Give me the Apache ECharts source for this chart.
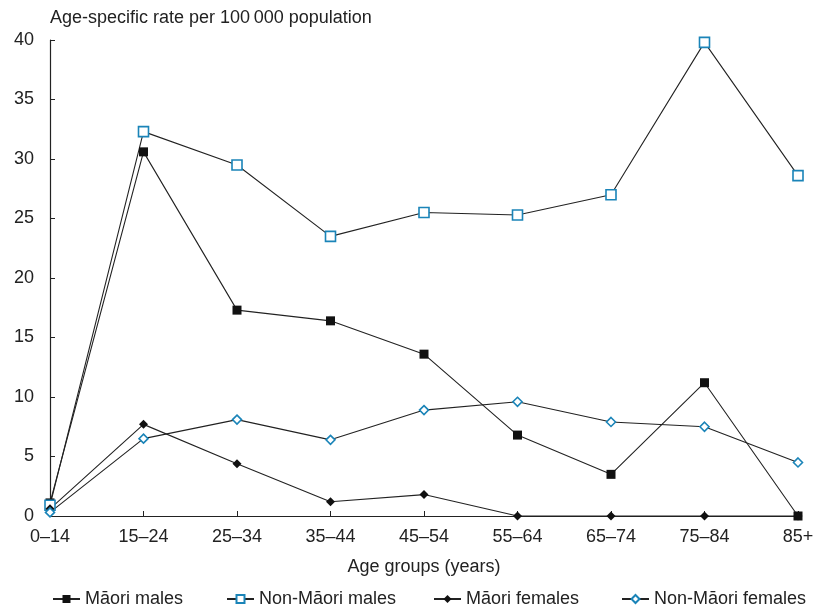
<!DOCTYPE html>
<html><head><meta charset="utf-8">
<script src="https://cdn.jsdelivr.net/npm/echarts@6/dist/echarts.min.js"></script>
<style>html,body{margin:0;padding:0;background:#fff}#c{width:813px;height:612px}</style>
</head><body><div id="c"></div>
<script>
const categories = ['0–14','15–24','25–34','35–44','45–54','55–64','65–74','75–84','85+'];
const maoriMales = [1.1, 30.6, 17.3, 16.4, 13.6, 6.8, 3.5, 11.2, 0];
const nonMaoriMales = [0.9, 32.3, 29.5, 23.5, 25.5, 25.3, 27.0, 39.8, 28.6];
const maoriFemales = [0.6, 7.7, 4.4, 1.2, 1.8, 0, 0, 0, 0];
const nonMaoriFemales = [0.3, 6.5, 8.1, 6.4, 8.9, 9.6, 7.9, 7.5, 4.5];
const yTicks = [0, 5, 10, 15, 20, 25, 30, 35, 40];
const seriesNames = ['Māori males', 'Non-Māori males', 'Māori females', 'Non-Māori females'];

const BLUE = '#1a84b8';
const INK = '#222';
const FONT = '"Liberation Sans", Arial, sans-serif';
const FS = 18;

const chart = echarts.init(document.getElementById('c'));
function mk(name, data, symbol, size, fill, border) {
  return {
    name, type: 'line', data, symbol, symbolSize: size,
    lineStyle: { color: INK, width: 1.1 },
    itemStyle: { color: fill, borderColor: border, borderWidth: fill === '#fff' ? 1.6 : 0 },
    emphasis: { disabled: true },
    animation: false
  };
}
const legendXs = [52, 226, 433, 621];
chart.setOption({
  animation: false,
  textStyle: { fontFamily: FONT },
  grid: { left: 50, right: 15, top: 40, bottom: 96, containLabel: false, outerBoundsMode: 'none' },
  legend: seriesNames.map((n, i) => ({
    data: [n], left: legendXs[i], top: 590, itemWidth: 27, itemHeight: 10, itemGap: 0,
    padding: 0,
    textStyle: { fontFamily: FONT, fontSize: FS, color: INK }
  })),
  xAxis: {
    type: 'category', data: categories, boundaryGap: false,
    name: 'Age groups (years)', nameLocation: 'middle', nameGap: 42,
    nameTextStyle: { fontFamily: FONT, fontSize: FS, color: INK },
    axisLine: { lineStyle: { color: INK, width: 1.2 } },
    axisTick: { inside: true, length: 5, lineStyle: { color: INK } },
    axisLabel: { fontFamily: FONT, fontSize: FS, color: INK, margin: 12 }
  },
  yAxis: {
    type: 'value', min: 0, max: 40, interval: 5,
    name: 'Age-specific rate per 100\u2009000 population', nameLocation: 'end', nameGap: 13,
    nameTextStyle: { fontFamily: FONT, fontSize: FS, color: INK, align: 'left' },
    axisLine: { show: true, lineStyle: { color: INK, width: 1.2 } },
    axisTick: { show: true, inside: true, length: 5, lineStyle: { color: INK } },
    splitLine: { show: false },
    axisLabel: { fontFamily: FONT, fontSize: FS, color: INK, margin: 16,
      formatter: v => yTicks.includes(v) ? String(v) : '' }
  },
  series: [
    mk(seriesNames[0], maoriMales, 'rect', 9, '#111', '#111'),
    mk(seriesNames[1], nonMaoriMales, 'rect', 10, '#fff', BLUE),
    mk(seriesNames[2], maoriFemales, 'diamond', 9, '#111', '#111'),
    mk(seriesNames[3], nonMaoriFemales, 'diamond', 9, '#fff', BLUE)
  ]
});
</script></body></html>
